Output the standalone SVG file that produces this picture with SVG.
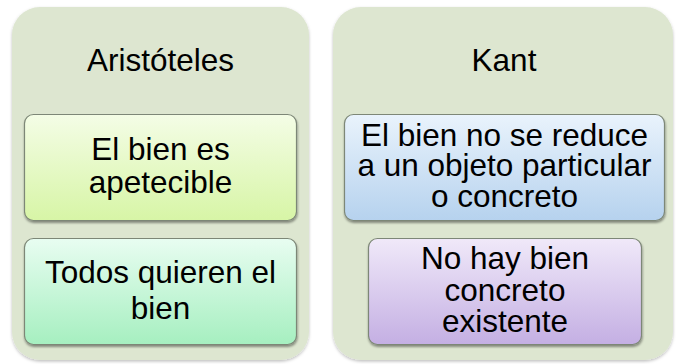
<svg xmlns="http://www.w3.org/2000/svg" width="677" height="364" viewBox="0 0 677 364">
<style>
.panel{fill:#dde6d0;}
.box{stroke:#7d8777;stroke-width:1.2;}
text{font-family:"Liberation Sans",Arial,sans-serif;font-size:31.5px;fill:#000;text-anchor:middle;}
</style>
<defs>
<linearGradient id="gGreen" x1="0" y1="0" x2="0" y2="1"><stop offset="0" stop-color="#f4fde6"/><stop offset="1" stop-color="#d7f5a6"/></linearGradient>
<linearGradient id="gMint" x1="0" y1="0" x2="0" y2="1"><stop offset="0" stop-color="#e8fdf1"/><stop offset="1" stop-color="#a6efc0"/></linearGradient>
<linearGradient id="gBlue" x1="0" y1="0" x2="0" y2="1"><stop offset="0" stop-color="#e9f3fc"/><stop offset="1" stop-color="#b6d2ee"/></linearGradient>
<linearGradient id="gLav" x1="0" y1="0" x2="0" y2="1"><stop offset="0" stop-color="#f0e9f9"/><stop offset="1" stop-color="#c4afe3"/></linearGradient>
<filter id="shPanel" x="-10%" y="-10%" width="120%" height="120%"><feDropShadow dx="0" dy="1.5" stdDeviation="1.5" flood-color="#000" flood-opacity="0.25"/></filter>
<filter id="shBox" x="-10%" y="-10%" width="120%" height="130%"><feDropShadow dx="0.5" dy="2" stdDeviation="1.2" flood-color="#000" flood-opacity="0.4"/></filter>
</defs>
<g id="panel-aristoteles">
<rect class="panel" x="12" y="7" width="297" height="353" rx="28" filter="url(#shPanel)"/>
<text x="160.5" y="71">Aristóteles</text>
</g>
<g id="panel-kant">
<rect class="panel" x="333" y="7" width="340" height="353" rx="28" filter="url(#shPanel)"/>
<text x="504" y="71">Kant</text>
</g>
<g id="node-apetecible">
<rect class="box" x="24.5" y="114.5" width="272" height="106" rx="9" fill="url(#gGreen)" filter="url(#shBox)"/>
<text x="160.5" y="160">El bien es</text>
<text x="160.5" y="193">apetecible</text>
</g>
<g id="node-todos">
<rect class="box" x="24.5" y="238.5" width="272" height="106" rx="9" fill="url(#gMint)" filter="url(#shBox)"/>
<text x="160.5" y="283">Todos quieren el</text>
<text x="160.5" y="319">bien</text>
</g>
<g id="node-reduce">
<rect class="box" x="344.5" y="114.5" width="320" height="106" rx="9" fill="url(#gBlue)" filter="url(#shBox)"/>
<text x="504.5" y="146">El bien no se reduce</text>
<text x="504.5" y="176">a un objeto particular</text>
<text x="504.5" y="207">o concreto</text>
</g>
<g id="node-nohay">
<rect class="box" x="368.5" y="238.5" width="273" height="106" rx="9" fill="url(#gLav)" filter="url(#shBox)"/>
<text x="505" y="269">No hay bien</text>
<text x="505" y="301">concreto</text>
<text x="505" y="332">existente</text>
</g>
<g id="connectors"></g>
</svg>
